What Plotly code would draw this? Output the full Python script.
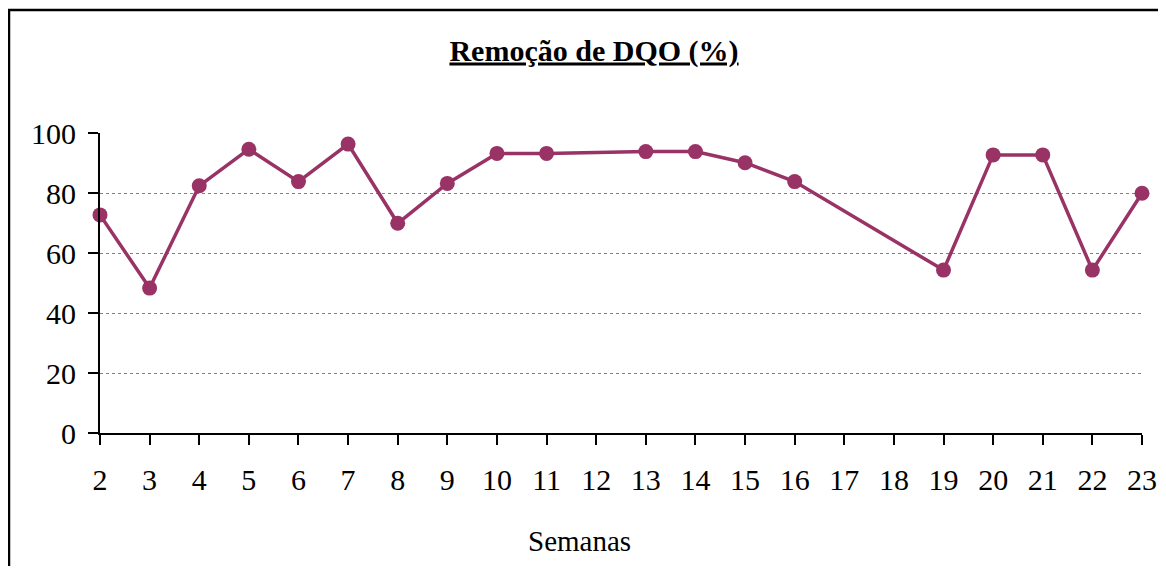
import plotly.graph_objects as go

weeks = list(range(2, 24))
week_labels = [str(w) for w in weeks]
removal = [72.7, 48.3, 82.4, 94.6, 83.8, 96.3, 69.9, 83.2, 93.2, 93.2, None, 93.8, 93.8,
           90.1, 83.8, None, None, 54.3, 92.7, 92.7, 54.3, 79.9]
y_ticks = [0, 20, 40, 60, 80, 100]

# page body has an 8px margin; work in figure coordinates and avoid scrollbars
OFF = 8
W, H = 1166 - 2 * OFF, 574 - 2 * OFF
L, R, T, B = 100 - OFF, 1142 - OFF, 133 - OFF, 433 - OFF

def px(x):
    return (x - OFF - L) / (R - L)

def py(y):
    return (B - (y - OFF)) / (B - T)

fig = go.Figure()
fig.add_trace(go.Scatter(
    x=weeks, y=removal, mode="lines+markers", connectgaps=True,
    line=dict(color="#993366", width=3.5),
    marker=dict(color="#993366", size=15),
    cliponaxis=False, showlegend=False,
))

font = "Liberation Serif, Times New Roman, serif"
fig.update_layout(
    width=W, height=H,
    margin=dict(l=L, r=W - R, t=T, b=H - B, autoexpand=False),
    paper_bgcolor="white", plot_bgcolor="white",
    font=dict(family=font, size=30, color="black"),
    title=dict(text="<u><b>Remoção de DQO (%)</b></u>", x=(594 - OFF) / W, xanchor="center",
               y=1 - (50 - OFF) / H, yanchor="middle", xref="container", yref="container",
               font=dict(family=font, size=30, color="black")),
    xaxis=dict(range=[2, 23], tickvals=weeks, ticktext=week_labels, automargin=False,
               showline=True, linecolor="black", linewidth=2,
               ticks="outside", ticklen=10, tickwidth=2, tickcolor="black",
               showgrid=False, zeroline=False, ticklabelstandoff=9),
    yaxis=dict(range=[0, 100], tickvals=y_ticks, automargin=False,
               showline=True, linecolor="black", linewidth=2,
               ticks="outside", ticklen=10, tickwidth=2, tickcolor="black",
               showgrid=True, gridcolor="#808080", gridwidth=1, griddash="dot",
               zeroline=False, ticklabelstandoff=6),
    annotations=[dict(text="Semanas", xref="paper", yref="paper",
                      x=px(579), y=py(541), xanchor="center", yanchor="middle",
                      showarrow=False, font=dict(family=font, size=29, color="black"))],
    shapes=[dict(type="rect", xref="paper", yref="paper",
                 x0=px(9), x1=px(1190), y0=py(600), y1=py(10),
                 line=dict(color="black", width=2.5), layer="above")],
)

fig.write_html("out.html")
